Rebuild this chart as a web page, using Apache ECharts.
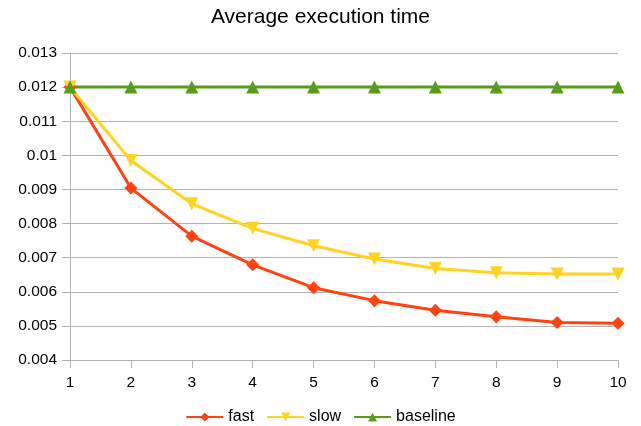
<!DOCTYPE html>
<html>
<head>
<meta charset="utf-8">
<script src="https://cdn.jsdelivr.net/npm/echarts@6/dist/echarts.min.js"></script>
<style>html,body{margin:0;padding:0;background:#fff;}#c{width:641px;height:426px;}</style>
</head>
<body>
<div id="c"></div>
<script>
var categories = ['1','2','3','4','5','6','7','8','9','10'];
var fast = [0.0120, 0.00904, 0.00763, 0.00679, 0.00612, 0.00574, 0.00546, 0.00527, 0.00510, 0.00508];
var slow = [0.0120, 0.00985, 0.00858, 0.00786, 0.00735, 0.00696, 0.00668, 0.00656, 0.00652, 0.00652];
var baseline = [0.012, 0.012, 0.012, 0.012, 0.012, 0.012, 0.012, 0.012, 0.012, 0.012];

var chart = echarts.init(document.getElementById('c'), null, {renderer: 'canvas'});
var font = 'Liberation Sans, Arial, sans-serif';
function mk(name, data, color, symbol, size, rot) {
  return {
    name: name, type: 'line', data: data, symbol: symbol, symbolSize: size,
    symbolRotate: rot || 0,
    lineStyle: {color: color, width: 3}, itemStyle: {color: color},
    showAllSymbol: true
  };
}
chart.setOption({
  animation: false,
  backgroundColor: '#fff',
  title: {text: 'Average execution time', left: 'center', top: 2,
    textStyle: {fontFamily: font, fontSize: 21, fontWeight: 'normal', color: '#000'}},
  grid: {left: 70, right: 23, top: 53, bottom: 66},
  legend: {top: 404, left: 'center', itemWidth: 37, itemHeight: 11, itemGap: 12,
    textStyle: {fontFamily: font, fontSize: 16, color: '#000'},
    data: ['fast', 'slow', 'baseline']},
  xAxis: {type: 'category', data: categories, boundaryGap: false,
    axisLine: {lineStyle: {color: '#b3b3b3'}},
    axisTick: {show: true, length: 8, lineStyle: {color: '#b3b3b3'}},
    axisLabel: {fontFamily: font, fontSize: 15.5, color: '#000', margin: 15},
    splitLine: {show: false}},
  yAxis: {type: 'value', min: 0.004, max: 0.013, interval: 0.001,
    axisLine: {show: true, lineStyle: {color: '#b3b3b3'}},
    axisTick: {show: true, length: 8, lineStyle: {color: '#b3b3b3'}},
    axisLabel: {fontFamily: font, fontSize: 15.5, color: '#000', margin: 13,
      formatter: function (v) { return String(parseFloat(v.toFixed(3))); }},
    splitLine: {lineStyle: {color: '#b3b3b3'}}},
  series: [
    mk('fast', fast, '#ff420e', 'diamond', 13),
    mk('slow', slow, '#ffd320', 'triangle', 13, 180),
    mk('baseline', baseline, '#579d1c', 'triangle', 13)
  ]
});
</script>
</body>
</html>
